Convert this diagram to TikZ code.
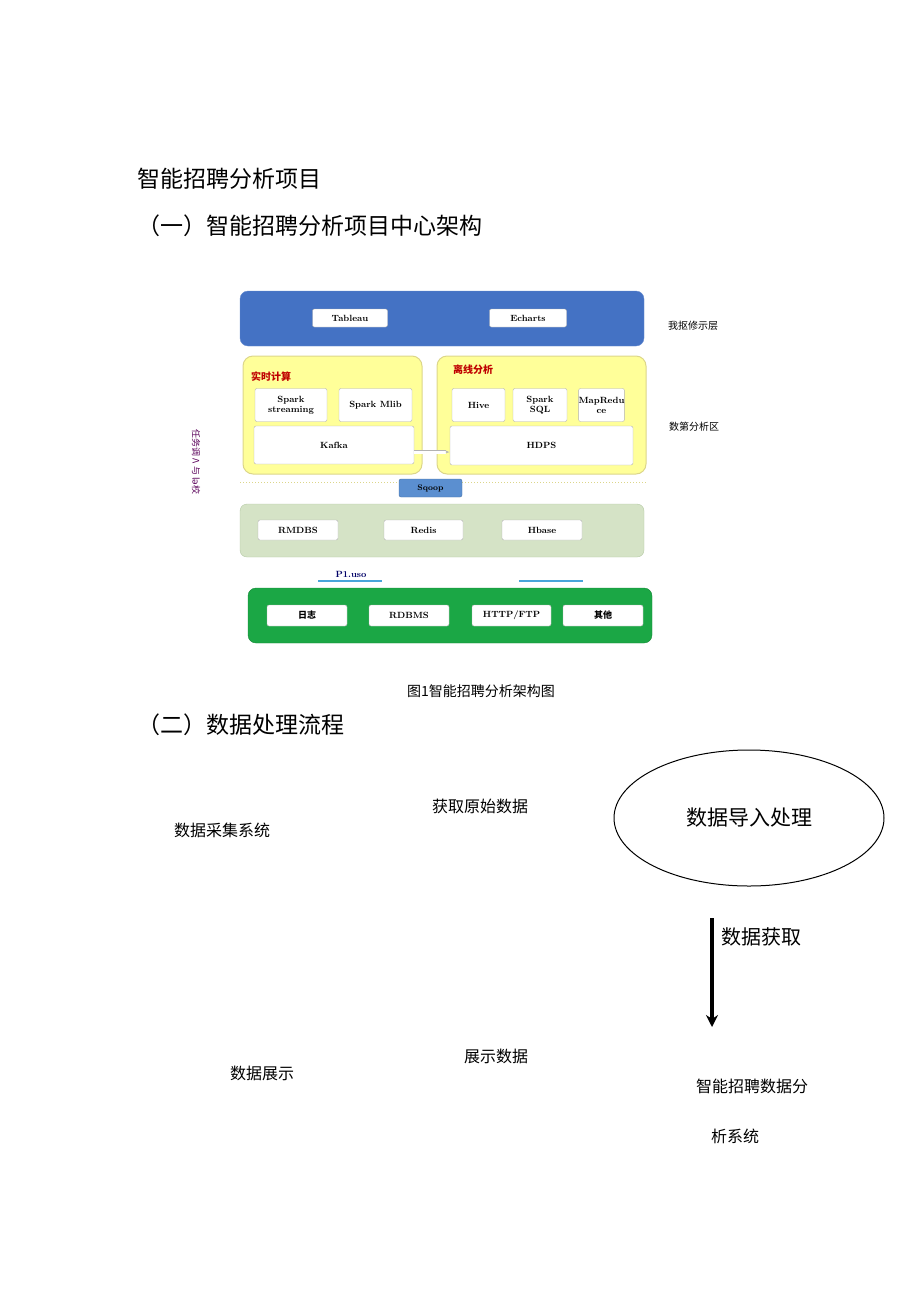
\documentclass[tikz,border=0pt]{standalone}
\usepackage{fontspec}
\newfontfamily\cjk{Noto Sans CJK SC}
\newfontfamily\djv{DejaVu Sans}
\usetikzlibrary{shapes.geometric,arrows.meta}
\definecolor{topblue}{HTML}{4472C4}
\definecolor{yel}{HTML}{FFFF99}
\definecolor{yelb}{HTML}{DCD68A}
\definecolor{gg}{HTML}{D5E3C6}
\definecolor{ggb}{HTML}{B5C9A5}
\definecolor{grn}{HTML}{1BA745}
\definecolor{sq}{HTML}{5B8FD0}
\tikzset{
 wb/.style={draw=gray!60,fill=white,rounded corners=2pt,font=\bfseries\fontsize{9}{10}\selectfont,align=center,inner sep=0pt},
 tx/.style={anchor=west,inner sep=0pt,font=\cjk},
 body/.style={inner sep=0pt,font=\cjk\fontsize{16}{18}\selectfont},
}
\begin{document}
\begin{tikzpicture}[x=1pt,y=-1pt]
\useasboundingbox (0,0) rectangle (920,1301);
\node[tx,font=\cjk\fontsize{23}{25}\selectfont] (t1) at (137,179) {智能招聘分析项目};
\node[tx,font=\cjk\fontsize{23}{25}\selectfont] (t2) at (137,226) {（一）智能招聘分析项目中心架构};
% top layer
\draw[fill=topblue,draw=topblue!80,rounded corners=8pt] (240,291) rectangle (644,346);
\node[wb,minimum width=75,minimum height=18] (tab) at (350,318) {Tableau};
\node[wb,minimum width=77,minimum height=18] (ech) at (528,318) {Echarts};
\node[tx,font=\cjk\fontsize{10}{11}\selectfont] (l1) at (668,326) {我抠修示层};
% yellow
\draw[fill=yel,draw=yelb,rounded corners=10pt,line width=1pt] (243,356) rectangle (422,474);
\draw[fill=yel,draw=yelb,rounded corners=10pt,line width=1pt] (437,356) rectangle (646,474);
\node[tx,font=\cjk\bfseries\fontsize{10}{11}\selectfont,text=red!75!black] (rt) at (251,377) {实时计算};
\node[tx,font=\cjk\bfseries\fontsize{10}{11}\selectfont,text=red!75!black] (lx) at (453,370) {离线分析};
\node[wb,minimum width=72,minimum height=33] (ss) at (291,405) {Spark\\streaming};
\node[wb,minimum width=73,minimum height=33] (sm) at (375.5,405) {Spark Mlib};
\node[wb,minimum width=160,minimum height=38] (kf) at (334,445) {Kafka};
\node[wb,minimum width=53,minimum height=33] (hv) at (478.5,405) {Hive};
\node[wb,minimum width=54,minimum height=33] (sql) at (540,405) {Spark\\SQL};
\node[wb,minimum width=43,minimum height=33] (mr) at (601.5,405) {MapRedu\\ce};
\node[wb,minimum width=183,minimum height=39] (hd) at (541.5,445.5) {HDPS};
\draw[double=white,draw=gray!60,line width=0.6pt,double distance=3pt,-{Latex[open,length=4pt]}] (kf.east |- 0,452) -- (hd.west |- 0,452);
\node[tx,font=\cjk\fontsize{10}{11}\selectfont] (l2) at (669,427) {数第分析区};
\draw[yelb,dotted,line width=1pt] (240,482) -- (646,482);
\node[fill=sq,draw=sq!80!black,rounded corners=2pt,minimum width=63,minimum height=18,inner sep=0pt,font=\bfseries\fontsize{8}{9}\selectfont] (sqp) at (430.5,488) {Sqoop};
% storage
\draw[fill=gg,draw=ggb,rounded corners=7pt] (240,504) rectangle (644,557);
\node[wb,minimum width=80,minimum height=20] (rm) at (298,530) {RMDBS};
\node[wb,minimum width=79,minimum height=20] (rd) at (423.5,530) {Redis};
\node[wb,minimum width=80,minimum height=20] (hb) at (542,530) {Hbase};
\node[font=\bfseries\fontsize{9}{10}\selectfont,text=blue!40!black,inner sep=0pt] (pu) at (351,574) {P1.uso};
\draw[sq!80!cyan,line width=2pt] (318,581) -- (382,581);
\draw[sq!80!cyan,line width=2pt] (519,581) -- (583,581);
% sources
\draw[fill=grn,draw=grn!80!black,rounded corners=8pt] (248,588) rectangle (652,643);
\node[wb,minimum width=80,minimum height=21,font=\cjk\bfseries\fontsize{9}{10}\selectfont] (rz) at (307,615.5) {日志};
\node[wb,minimum width=80,minimum height=21] (rdb) at (409,615.5) {RDBMS};
\node[wb,minimum width=79,minimum height=21] (ht) at (511.5,615.5) {HTTP/FTP};
\node[wb,minimum width=80,minimum height=21,font=\cjk\bfseries\fontsize{9}{10}\selectfont] (qt) at (603,615.5) {其他};
\node[font=\cjk\fontsize{9}{10}\selectfont,text=violet!70!black,rotate=-90,inner sep=0pt] (side) at (196,462) {任务调 Λ 与 l{\djv ə}校};
\node[font=\cjk\fontsize{14}{15}\selectfont,inner sep=0pt] (cap) at (481,691) {图1智能招聘分析架构图};
% part 2
\node[tx,font=\cjk\fontsize{23}{25}\selectfont] (t3) at (137,725) {（二）数据处理流程};
\node[draw,ellipse,line width=1pt,minimum width=270,minimum height=136,font=\cjk\fontsize{21}{23}\selectfont] (el) at (749,818) {数据导入处理};
\node[body] (a1) at (480,806) {获取原始数据};
\node[body] (a2) at (222,830) {数据采集系统};
\coordinate (ar1) at (712,918);
\coordinate (ar2) at (712,1027);
\draw[line width=3.5pt,-{Stealth[length=12pt,width=12pt]}] (ar1) -- (ar2);
\node[tx,font=\cjk\fontsize{20}{22}\selectfont] (a3) at (721,937) {数据获取};
\node[body] (a4) at (496,1056) {展示数据};
\node[body] (a5) at (262,1073) {数据展示};
\node[body] (a6) at (752,1086) {智能招聘数据分};
\node[body] (a7) at (735,1136) {析系统};
\end{tikzpicture}
\end{document}
